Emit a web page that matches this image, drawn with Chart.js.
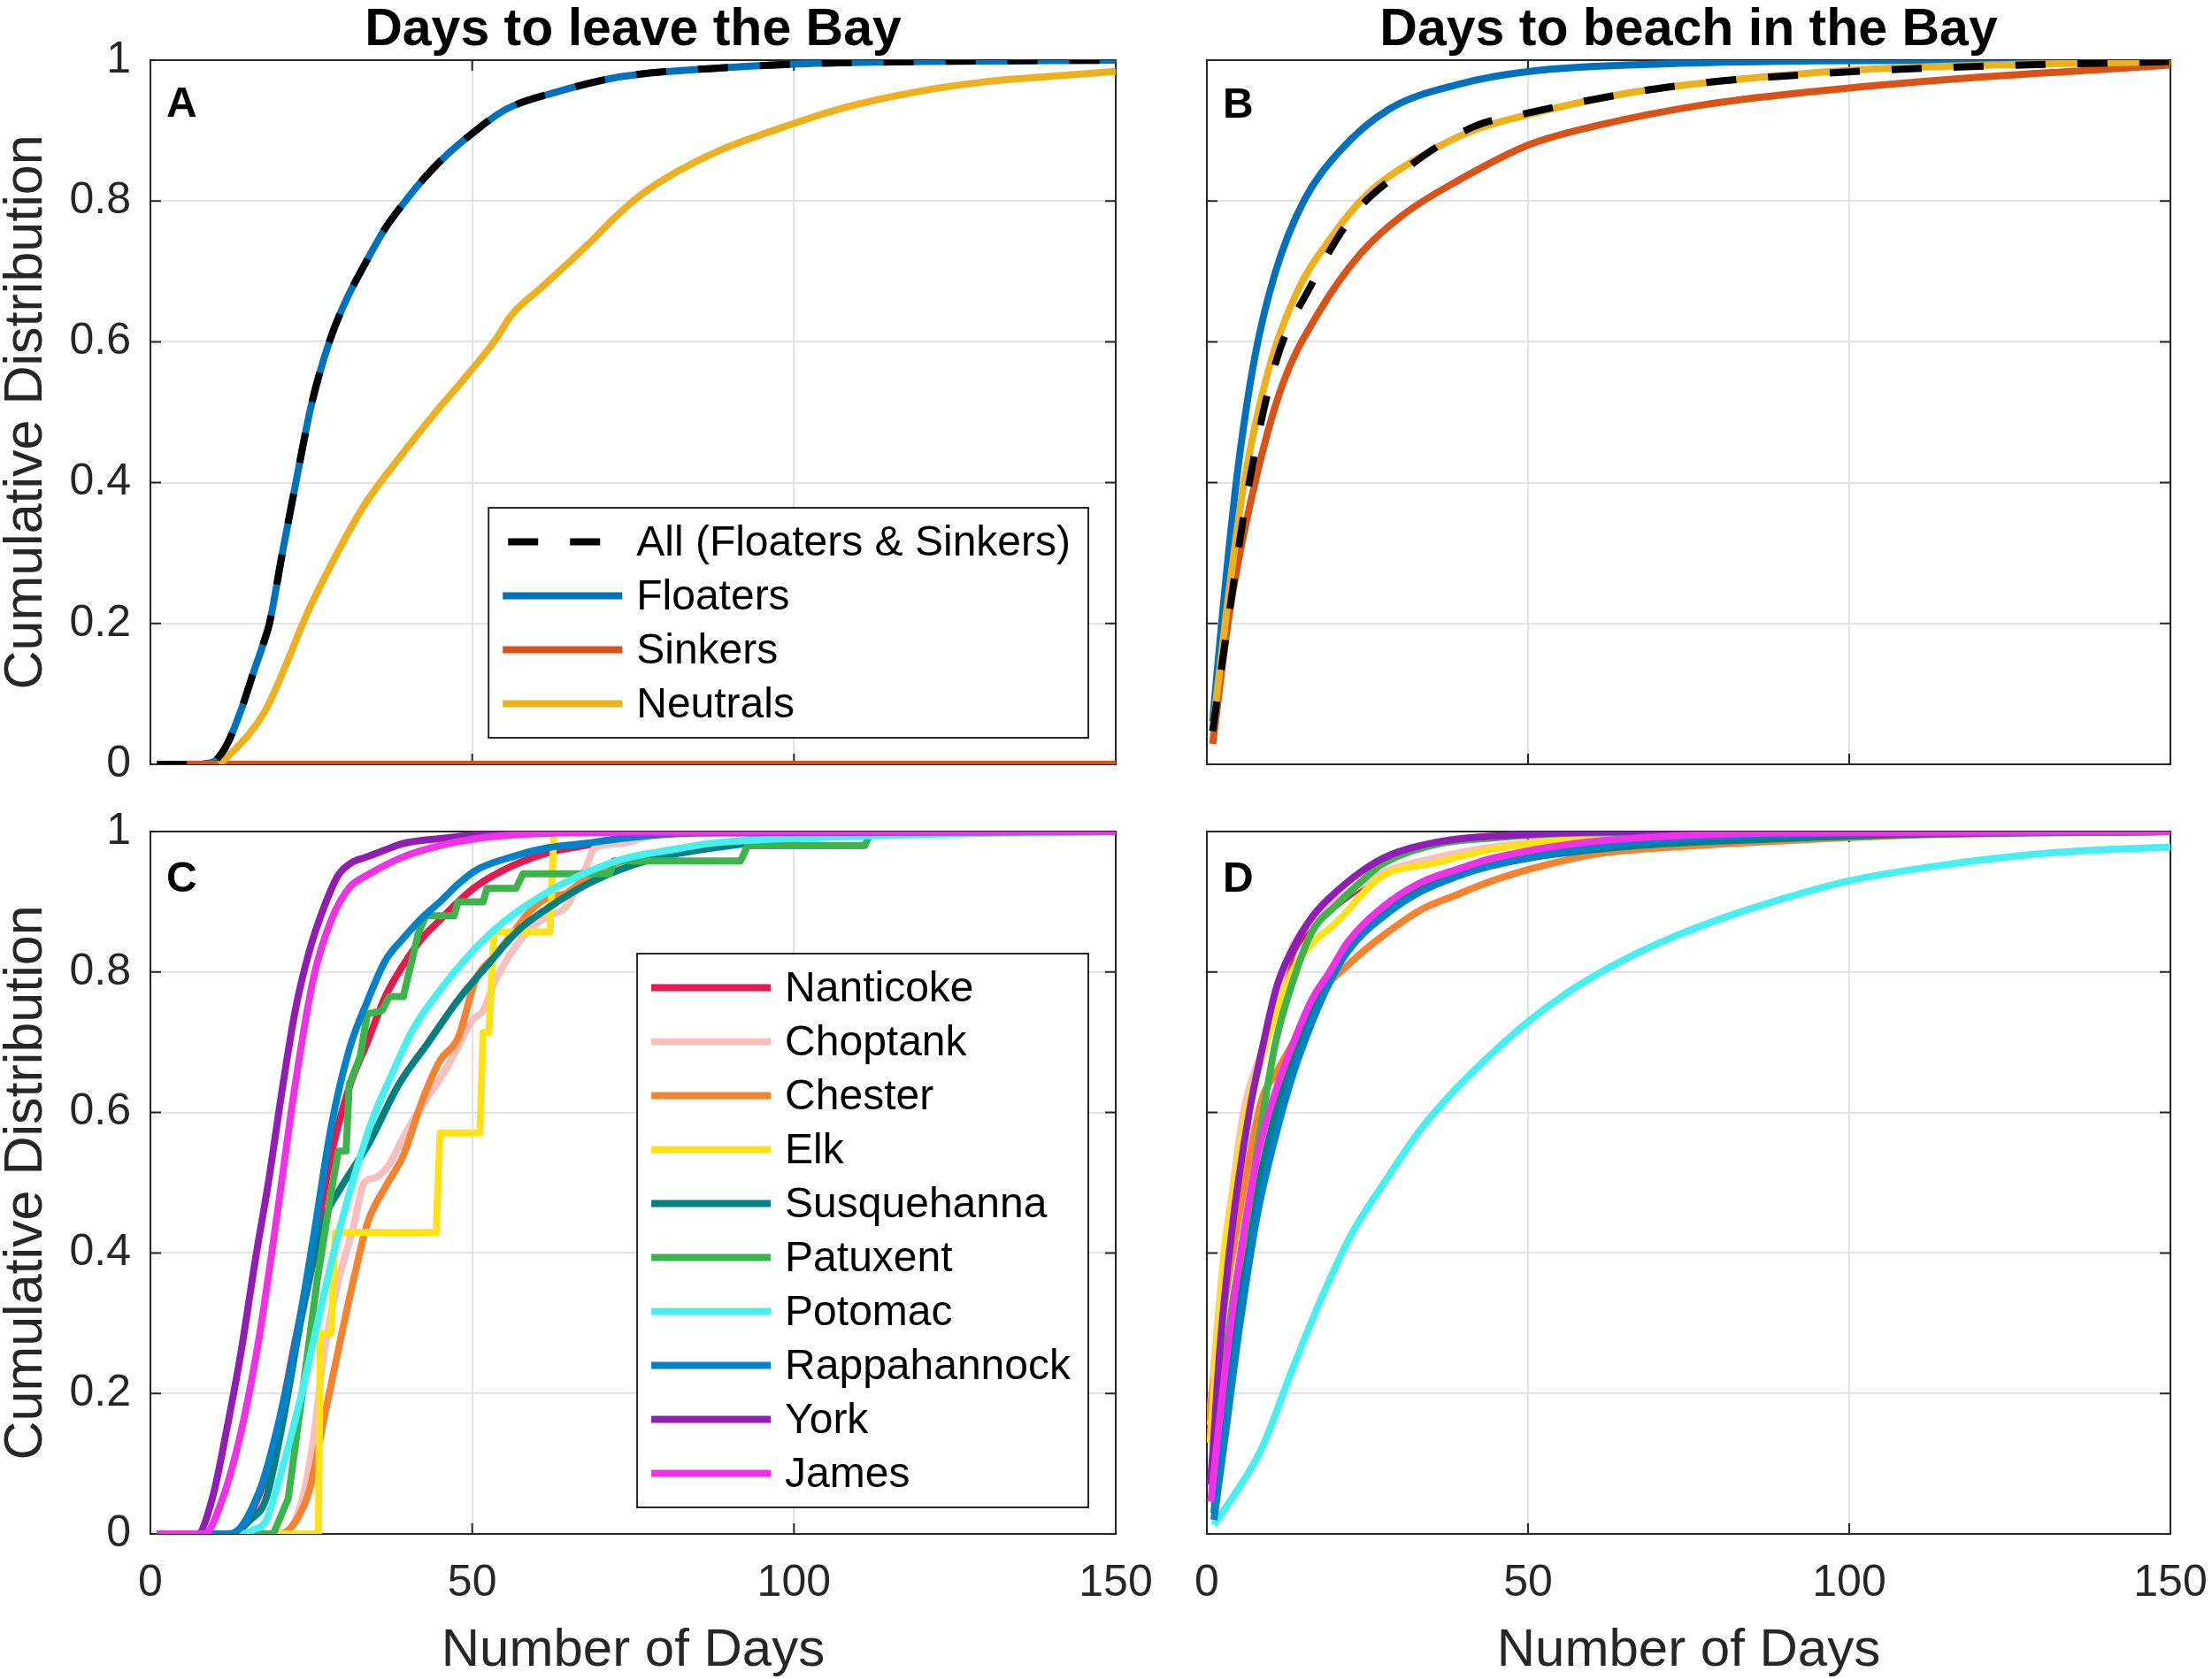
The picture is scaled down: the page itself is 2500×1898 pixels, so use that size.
<!DOCTYPE html>
<html>
<head>
<meta charset="utf-8">
<title>Days to leave / beach in the Bay</title>
<script src="https://cdn.jsdelivr.net/npm/chart.js@4.4.1/dist/chart.umd.min.js"></script>
<style>
  html, body { margin: 0; padding: 0; background: #fff; }
  #wrap { position: relative; width: 2500px; height: 1898px; background: #fff; overflow: hidden; }
  canvas { position: absolute; }
</style>
</head>
<body>
<div id="wrap">
  <canvas id="panelA" width="1300" height="920" style="left:0px;top:0px;width:1300px;height:920px"></canvas>
  <canvas id="panelB" width="1200" height="920" style="left:1300px;top:0px;width:1200px;height:920px"></canvas>
  <canvas id="panelC" width="1335" height="1018" style="left:0px;top:880px;width:1335px;height:1018px"></canvas>
  <canvas id="panelD" width="1240" height="1018" style="left:1300px;top:880px;width:1240px;height:1018px"></canvas>
</div>
<script>
const FONT = '"Liberation Sans", Arial, Helvetica, sans-serif';
Chart.defaults.font.family = FONT;
Chart.defaults.color = '#262626';

// tick labels
const xTickLabels = ['0', '50', '100', '150'];
const yTickLabels = ['0', '0.2', '0.4', '0.6', '0.8', '1'];

const particleTypes = ['All (Floaters & Sinkers)', 'Floaters', 'Sinkers', 'Neutrals'];
const rivers = ['Nanticoke', 'Choptank', 'Chester', 'Elk', 'Susquehanna', 'Patuxent', 'Potomac', 'Rappahannock', 'York', 'James'];

// ---- A: days to leave the Bay, by particle type ----
const leaveAllDays = [1, 9, 10.2, 12, 14.2, 16, 17.5, 18.5, 20.5, 22.6, 25, 27.8, 30.2, 33.3, 36.4, 39.2, 42.6, 46, 50, 55.2, 63.2, 73.5, 90.5, 102, 120, 150];
const leaveAllCdf = [0, 0, 0.006, 0.03, 0.08, 0.13, 0.17, 0.2, 0.30, 0.40, 0.51, 0.60, 0.655, 0.71, 0.76, 0.795, 0.833, 0.865, 0.896, 0.93, 0.955, 0.977, 0.99, 0.995, 0.998, 1];
const leaveFloatersDays = [8, 10.2, 12, 14.2, 16, 17.5, 18.5, 20.5, 22.6, 25, 27.8, 30.2, 33.3, 36.4, 39.2, 42.6, 46, 50, 55.2, 63.2, 73.5, 90.5, 102, 120, 150];
const leaveFloatersCdf = [0, 0.006, 0.03, 0.08, 0.13, 0.17, 0.2, 0.30, 0.40, 0.51, 0.60, 0.655, 0.71, 0.76, 0.795, 0.833, 0.865, 0.896, 0.93, 0.955, 0.977, 0.99, 0.995, 0.998, 1];
const leaveSinkersDays = [5.5, 150];
const leaveSinkersCdf = [0, 0];
const leaveNeutralsDays = [10.8, 13, 15.5, 17.9, 21, 24.1, 28.4, 33.3, 38.9, 44.4, 48.7, 53.7, 56.1, 61, 68.4, 72.1, 76.4, 81.9, 88.7, 95.5, 107.6, 119, 130.4, 140, 150];
const leaveNeutralsCdf = [0, 0.02, 0.045, 0.077, 0.14, 0.209, 0.289, 0.369, 0.438, 0.501, 0.547, 0.604, 0.638, 0.679, 0.742, 0.776, 0.81, 0.842, 0.873, 0.896, 0.932, 0.955, 0.97, 0.977, 0.984];

// ---- B: days to beach in the Bay, by particle type ----
const beachAllDays = [0.9, 3.1, 6.4, 10.7, 16.2, 22.8, 31.6, 41.4, 50, 72, 94, 116, 150];
const beachAllCdf = [0.047, 0.19, 0.39, 0.57, 0.68, 0.78, 0.85, 0.905, 0.925, 0.962, 0.98, 0.99, 0.998];
const beachFloatersDays = [0.9, 2.5, 4.7, 7.5, 10.7, 15.1, 20.6, 28.3, 39.3, 50.2, 72, 94, 120, 150];
const beachFloatersCdf = [0.061, 0.22, 0.41, 0.58, 0.70, 0.80, 0.87, 0.93, 0.966, 0.984, 0.995, 0.999, 1, 1];
const beachSinkersDays = [0.9, 3.6, 7.5, 11.8, 17.3, 23.9, 30.5, 39.3, 50.2, 61.2, 77.6, 94, 116, 137.8, 150];
const beachSinkersCdf = [0.029, 0.22, 0.40, 0.54, 0.64, 0.725, 0.78, 0.83, 0.88, 0.908, 0.937, 0.955, 0.973, 0.986, 0.993];
const beachNeutralsDays = [0.9, 3.1, 5.8, 9.6, 14, 19.5, 25, 32.7, 41.4, 50.2, 66.7, 83, 105, 150];
const beachNeutralsCdf = [0.047, 0.22, 0.40, 0.56, 0.67, 0.75, 0.81, 0.86, 0.90, 0.923, 0.955, 0.973, 0.988, 0.998];

// ---- C: days to leave the Bay, by river ----
const leaveNanticokeDays = [1, 12.9, 16.9, 19.7, 22.5, 25.3, 28.1, 30.9, 33.7, 36.5, 39.3, 42.2, 45, 47.8, 50.6, 56.2, 61.8, 67.5, 73, 85, 150];
const leaveNanticokeCdf = [0, 0, 0.056, 0.146, 0.275, 0.40, 0.54, 0.636, 0.70, 0.765, 0.81, 0.848, 0.874, 0.90, 0.922, 0.951, 0.97, 0.98, 0.99, 0.998, 1];
const leaveChoptankDays = [1, 20.8, 23.6, 25.3, 27, 29.2, 31.5, 33.2, 34.9, 37.1, 39.3, 42.2, 45, 47.8, 50, 51.7, 53.4, 56.2, 59, 61.8, 64.6, 67.5, 69.1, 73, 80, 150];
const leaveChoptankCdf = [0, 0, 0.05, 0.133, 0.26, 0.36, 0.436, 0.50, 0.507, 0.526, 0.565, 0.61, 0.648, 0.693, 0.732, 0.745, 0.784, 0.829, 0.861, 0.88, 0.893, 0.945, 0.977, 0.983, 0.998, 1];
const leaveChesterDays = [1, 20.2, 22.5, 24.7, 27, 29.2, 31.5, 33.7, 36.5, 39.3, 42.2, 45, 47.8, 50.6, 53.4, 56.2, 59, 61.8, 64.6, 67.5, 73, 78.7, 88.1, 102, 150];
const leaveChesterCdf = [0, 0, 0.017, 0.062, 0.165, 0.262, 0.359, 0.442, 0.494, 0.539, 0.616, 0.674, 0.706, 0.79, 0.822, 0.854, 0.887, 0.906, 0.912, 0.932, 0.957, 0.97, 0.983, 0.995, 1];
const leaveElkDays = [1, 26.1, 26.4, 28.1, 28.7, 44.4, 45, 51.2, 51.7, 52.6, 53.4, 62.1, 62.7, 150];
const leaveElkCdf = [0, 0, 0.286, 0.286, 0.429, 0.429, 0.571, 0.571, 0.714, 0.714, 0.857, 0.857, 1, 1];
const leaveSusquehannaDays = [1, 12.4, 15.5, 17.96, 20.7, 23.5, 27.1, 29.4, 34, 38.6, 43.2, 47.8, 52.4, 57, 61.6, 68.5, 77.7, 86.9, 100, 120, 150];
const leaveSusquehannaCdf = [0, 0, 0.02, 0.05, 0.166, 0.31, 0.45, 0.49, 0.557, 0.64, 0.70, 0.76, 0.81, 0.858, 0.89, 0.928, 0.96, 0.976, 0.99, 0.998, 1];
const leavePatuxentDays = [1, 19.1, 21.4, 23.6, 25.9, 28.1, 29.2, 30.4, 30.9, 32.6, 33.7, 36, 37.1, 39.3, 41.6, 42.8, 47.2, 47.8, 51.7, 52.3, 56.8, 57.9, 71.4, 72, 91.7, 92.8, 111, 112, 150];
const leavePatuxentCdf = [0, 0, 0.05, 0.2, 0.36, 0.487, 0.545, 0.545, 0.64, 0.68, 0.74, 0.745, 0.765, 0.765, 0.854, 0.88, 0.88, 0.90, 0.90, 0.919, 0.919, 0.94, 0.94, 0.958, 0.958, 0.98, 0.98, 1, 1];
const leavePotomacDays = [1, 14.1, 16, 17.96, 20.7, 23.5, 26.2, 29, 31.7, 34.5, 37.3, 40.9, 45.5, 50.1, 54.7, 59.3, 63.9, 73.1, 82.3, 86.9, 102, 124.7, 150];
const leavePotomacCdf = [0, 0, 0.006, 0.019, 0.10, 0.20, 0.31, 0.42, 0.51, 0.59, 0.65, 0.72, 0.78, 0.83, 0.87, 0.90, 0.925, 0.96, 0.976, 0.983, 0.991, 0.997, 1];
const leaveRappahannockDays = [1, 12.4, 16.9, 19.7, 22.5, 25.3, 28.1, 30.9, 33.7, 36.5, 39.3, 42.2, 45, 47.8, 50.6, 56.2, 61.8, 67.5, 73, 85, 150];
const leaveRappahannockCdf = [0, 0, 0.06, 0.15, 0.27, 0.42, 0.58, 0.69, 0.758, 0.816, 0.848, 0.877, 0.90, 0.925, 0.945, 0.964, 0.977, 0.983, 0.99, 0.998, 1];
const leaveYorkDays = [1, 7.3, 9.6, 11.8, 14.1, 16.3, 18.5, 20.2, 22.5, 24.7, 27, 29.2, 31.5, 33.7, 36.5, 39.3, 45, 50.6, 60, 150];
const leaveYorkCdf = [0, 0, 0.05, 0.146, 0.26, 0.39, 0.51, 0.616, 0.745, 0.83, 0.893, 0.938, 0.957, 0.964, 0.974, 0.983, 0.99, 0.995, 0.999, 1];
const leaveJamesDays = [1, 8.4, 11.2, 14.1, 16.9, 19.7, 22.5, 25.3, 28.1, 30.9, 33.7, 39.3, 45, 50.6, 56.2, 70, 150];
const leaveJamesCdf = [0, 0, 0.05, 0.146, 0.28, 0.455, 0.64, 0.79, 0.874, 0.92, 0.938, 0.964, 0.98, 0.99, 0.995, 0.999, 1];

// ---- D: days to beach in the Bay, by river ----
const beachNanticokeDays = [0.4, 2.7, 4, 5.8, 8.6, 12, 13.5, 16.3, 20.1, 27, 35.3, 44.5, 60, 150];
const beachNanticokeCdf = [0.14, 0.39, 0.48, 0.595, 0.68, 0.79, 0.83, 0.865, 0.895, 0.938, 0.96, 0.977, 0.99, 1];
const beachChoptankDays = [0.3, 2.7, 4, 5.7, 8.6, 11.9, 13.5, 16.3, 20.1, 27, 35.3, 44.5, 60, 150];
const beachChoptankCdf = [0.155, 0.40, 0.49, 0.60, 0.69, 0.80, 0.84, 0.87, 0.90, 0.94, 0.962, 0.978, 0.99, 1];
const beachChesterDays = [0.3, 2.3, 4, 5.1, 8.6, 10.7, 13.5, 16.3, 19.1, 21.96, 24.8, 27.6, 33.2, 38.9, 44.5, 50.1, 55.7, 61.4, 72.6, 87.7, 110, 150];
const beachChesterCdf = [0.16, 0.30, 0.40, 0.46, 0.62, 0.655, 0.70, 0.745, 0.785, 0.81, 0.833, 0.853, 0.888, 0.91, 0.93, 0.946, 0.959, 0.969, 0.978, 0.986, 0.995, 1];
const beachElkDays = [0.5, 2.7, 4, 5.9, 8.6, 11.9, 13.5, 16.3, 20.1, 27, 35.3, 44.5, 55.7, 80, 150];
const beachElkCdf = [0.13, 0.40, 0.48, 0.59, 0.68, 0.77, 0.805, 0.84, 0.87, 0.935, 0.955, 0.975, 0.988, 0.998, 1];
const beachSusquehannaDays = [1.1, 2.8, 5.1, 7.9, 10.7, 13.5, 16.3, 19.1, 21.96, 27.6, 33.2, 38.9, 50.1, 67, 83.9, 110, 150];
const beachSusquehannaCdf = [0.03, 0.18, 0.34, 0.49, 0.6, 0.68, 0.74, 0.79, 0.83, 0.885, 0.918, 0.938, 0.962, 0.98, 0.988, 0.996, 1];
const beachPatuxentDays = [0.8, 2, 4, 5.4, 8.6, 10.7, 12.8, 16.3, 20.1, 24.8, 27, 35.3, 44.5, 60, 150];
const beachPatuxentCdf = [0.07, 0.18, 0.33, 0.40, 0.59, 0.70, 0.77, 0.856, 0.895, 0.935, 0.952, 0.981, 0.991, 0.998, 1];
const beachPotomacDays = [1.1, 4, 8.6, 13.2, 17.8, 22.4, 27.6, 33.2, 38.9, 44.5, 50.1, 55.7, 61.4, 67, 72.6, 78.3, 83.9, 99.6, 116, 132, 150];
const beachPotomacCdf = [0.013, 0.052, 0.123, 0.232, 0.335, 0.425, 0.50, 0.575, 0.635, 0.685, 0.73, 0.768, 0.80, 0.827, 0.85, 0.87, 0.888, 0.929, 0.954, 0.97, 0.978];
const beachRappahannockDays = [1.1, 2.8, 5.1, 7.9, 10.7, 13.5, 16.3, 19.1, 21.96, 27.6, 33.2, 38.9, 44.5, 55.7, 67, 90, 150];
const beachRappahannockCdf = [0.02, 0.136, 0.296, 0.457, 0.567, 0.657, 0.727, 0.785, 0.83, 0.88, 0.914, 0.936, 0.952, 0.972, 0.985, 0.996, 1];
const beachYorkDays = [0.5, 0.8, 2, 4, 6.6, 8.6, 10.9, 13.2, 16.5, 20.1, 27, 35.3, 50, 70, 150];
const beachYorkCdf = [0.07, 0.10, 0.26, 0.44, 0.60, 0.69, 0.78, 0.83, 0.88, 0.914, 0.96, 0.984, 0.996, 1, 1];
const beachJamesDays = [0.6, 2.8, 5.1, 7.9, 10.7, 13.5, 16.3, 19.1, 21.96, 27.6, 33.2, 38.9, 44.5, 55.7, 67, 90, 150];
const beachJamesCdf = [0.046, 0.23, 0.39, 0.54, 0.63, 0.70, 0.76, 0.80, 0.843, 0.894, 0.927, 0.946, 0.962, 0.981, 0.991, 0.998, 1];

// colours (matlab default order for A/B, river palette for C/D)
const typeColors = ['#000000', '#0072BD', '#D95319', '#EDB120'];
const riverColors = ['#E6194B', '#FABEBE', '#F58231', '#FFE119', '#008080', '#3CB44B', '#46F0F0', '#0082C8', '#911EB4', '#F032E6'];

function line(label, color, days, cdf, extra) {
    return Object.assign({
        label: label,
        borderColor: color,
        backgroundColor: color,
        borderWidth: 8,
        pointRadius: 0,
        pointHoverRadius: 0,
        fill: false,
        cubicInterpolationMode: 'monotone',
        borderCapStyle: 'butt',
        borderJoinStyle: 'round',
        data: days.map((d, i) => ({ x: d, y: cdf[i] }))
    }, extra || {});
}

// box around the axes + inward tick marks (matlab style)
const frame = {
    id: 'frame',
    beforeDatasetsDraw(chart) {
        const { ctx, chartArea: a, scales } = chart;
        ctx.save();
        ctx.strokeStyle = '#262626';
        ctx.lineWidth = 2;
        ctx.strokeRect(a.left, a.top, a.right - a.left, a.bottom - a.top);
        ctx.beginPath();
        scales.x.ticks.forEach(t => {
            const px = scales.x.getPixelForValue(t.value);
            ctx.moveTo(px, a.bottom); ctx.lineTo(px, a.bottom - 12);
            ctx.moveTo(px, a.top); ctx.lineTo(px, a.top + 12);
        });
        scales.y.ticks.forEach(t => {
            const py = scales.y.getPixelForValue(t.value);
            ctx.moveTo(a.left, py); ctx.lineTo(a.left + 12, py);
            ctx.moveTo(a.right, py); ctx.lineTo(a.right - 12, py);
        });
        ctx.stroke();
        ctx.restore();
    }
};

// legend drawn inside the lower right corner of the axes
const boxLegend = {
    id: 'boxLegend',
    afterDraw(chart, args, opts) {
        if (!opts.show) return;
        const { ctx, chartArea: a } = chart;
        const items = chart.data.datasets;
        ctx.save();
        ctx.font = '48px ' + FONT;
        const textW = Math.max(...items.map(d => ctx.measureText(d.label).width));
        const rowH = 61, padL = 16, lineLen = 135, gap = 16, padR = 20;
        const w = padL + lineLen + gap + textW + padR;
        const h = items.length * rowH + 16;
        const x0 = a.right - 31 - w, y0 = a.bottom - 30 - h;
        ctx.fillStyle = '#ffffff';
        ctx.fillRect(x0, y0, w, h);
        ctx.lineWidth = 2;
        ctx.strokeStyle = '#262626';
        ctx.strokeRect(x0, y0, w, h);
        items.forEach((d, i) => {
            const cy = y0 + 8 + rowH * (i + 0.5);
            ctx.beginPath();
            ctx.setLineDash(d.borderDash || []);
            ctx.lineDashOffset = -6;
            ctx.strokeStyle = d.borderColor;
            ctx.lineWidth = d.borderWidth;
            ctx.lineCap = 'butt';
            ctx.moveTo(x0 + padL, cy);
            ctx.lineTo(x0 + padL + lineLen, cy);
            ctx.stroke();
            ctx.setLineDash([]);
            ctx.fillStyle = '#000000';
            ctx.textBaseline = 'middle';
            ctx.textAlign = 'left';
            ctx.fillText(d.label, x0 + padL + lineLen + gap, cy + 2);
        });
        ctx.restore();
    }
};

const panelLetter = {
    id: 'panelLetter',
    afterDraw(chart, args, opts) {
        const { ctx, chartArea: a } = chart;
        ctx.save();
        ctx.font = 'bold 48px ' + FONT;
        ctx.fillStyle = '#000000';
        ctx.textBaseline = 'alphabetic';
        ctx.textAlign = 'left';
        ctx.fillText(opts.text, a.left + 18, a.top + opts.baseline);
        ctx.restore();
    }
};

function panel(id, cfg) {
    return new Chart(document.getElementById(id), {
        type: 'line',
        data: { datasets: cfg.datasets },
        options: {
            responsive: false,
            animation: false,
            devicePixelRatio: 1,
            events: [],
            layout: { padding: cfg.padding },
            plugins: {
                legend: { display: false },
                tooltip: { enabled: false },
                title: {
                    display: !!cfg.title,
                    text: cfg.title || '',
                    fullSize: false,
                    color: '#000000',
                    font: { size: 59, weight: 'bold', lineHeight: 1 },
                    padding: { top: 5, bottom: 4 }
                },
                boxLegend: { show: !!cfg.legend },
                panelLetter: { text: cfg.letter, baseline: cfg.letterBaseline }
            },
            scales: {
                x: {
                    type: 'linear',
                    min: 0,
                    max: 150,
                    ticks: {
                        stepSize: 50,
                        display: cfg.xLabels,
                        padding: 26,
                        color: '#262626',
                        font: { size: 50, lineHeight: 1.2 },
                        callback: (v, i) => xTickLabels[i]
                    },
                    grid: { color: '#e2e2e2', lineWidth: 2, drawTicks: false },
                    border: { display: false },
                    title: {
                        display: cfg.xLabels,
                        text: 'Number of Days',
                        color: '#262626',
                        font: { size: 60, lineHeight: 1 },
                        padding: { top: 0, bottom: 2 }
                    },
                    afterFit: s => { s.height = cfg.xHeight; }
                },
                y: {
                    type: 'linear',
                    min: 0,
                    max: 1,
                    ticks: {
                        stepSize: 0.2,
                        display: cfg.yLabels,
                        padding: 22,
                        color: '#262626',
                        font: { size: 50, lineHeight: 1.2 },
                        callback: (v, i) => yTickLabels[i]
                    },
                    grid: { color: '#e2e2e2', lineWidth: 2, drawTicks: false },
                    border: { display: false },
                    title: {
                        display: cfg.yLabels,
                        text: 'Cumulative Distribution',
                        color: '#262626',
                        font: { size: 61, lineHeight: 1 },
                        padding: 0
                    },
                    afterFit: s => { s.width = cfg.yWidth; }
                }
            }
        },
        plugins: [frame, boxLegend, panelLetter]
    });
}

const dashed = { borderDash: [34, 36], order: 0 };

// A
panel('panelA', {
    title: 'Days to leave the Bay', letter: 'A', letterBaseline: 64, legend: true,
    xLabels: false, yLabels: true, yWidth: 170, xHeight: 56,
    padding: { left: 0, top: 0, right: 39, bottom: 0 },
    datasets: [
        line(particleTypes[0], typeColors[0], leaveAllDays, leaveAllCdf, dashed),
        line(particleTypes[1], typeColors[1], leaveFloatersDays, leaveFloatersCdf, { order: 3 }),
        line(particleTypes[2], typeColors[2], leaveSinkersDays, leaveSinkersCdf, { order: 2 }),
        line(particleTypes[3], typeColors[3], leaveNeutralsDays, leaveNeutralsCdf, { order: 1 })
    ]
});

// B
panel('panelB', {
    title: 'Days to beach in the Bay', letter: 'B', letterBaseline: 65, legend: false,
    xLabels: false, yLabels: false, yWidth: 64, xHeight: 56,
    padding: { left: 0, top: 0, right: 47, bottom: 0 },
    datasets: [
        line(particleTypes[0], typeColors[0], beachAllDays, beachAllCdf, dashed),
        line(particleTypes[1], typeColors[1], beachFloatersDays, beachFloatersCdf, { order: 3 }),
        line(particleTypes[2], typeColors[2], beachSinkersDays, beachSinkersCdf, { order: 2 }),
        line(particleTypes[3], typeColors[3], beachNeutralsDays, beachNeutralsCdf, { order: 1 })
    ]
});

// C
const leaveRivers = [
    [leaveNanticokeDays, leaveNanticokeCdf], [leaveChoptankDays, leaveChoptankCdf],
    [leaveChesterDays, leaveChesterCdf], [leaveElkDays, leaveElkCdf],
    [leaveSusquehannaDays, leaveSusquehannaCdf], [leavePatuxentDays, leavePatuxentCdf],
    [leavePotomacDays, leavePotomacCdf], [leaveRappahannockDays, leaveRappahannockCdf],
    [leaveYorkDays, leaveYorkCdf], [leaveJamesDays, leaveJamesCdf]
];
const stepRivers = ['Elk', 'Patuxent'];
panel('panelC', {
    letter: 'C', letterBaseline: 68, legend: true,
    xLabels: true, yLabels: true, yWidth: 170, xHeight: 164,
    padding: { left: 0, top: 60, right: 74, bottom: 0 },
    datasets: rivers.map((r, i) => line(r, riverColors[i], leaveRivers[i][0], leaveRivers[i][1],
        Object.assign({ order: rivers.length - i }, stepRivers.includes(r) ? { cubicInterpolationMode: 'default', tension: 0 } : {})))
});

// D
const beachRivers = [
    [beachNanticokeDays, beachNanticokeCdf], [beachChoptankDays, beachChoptankCdf],
    [beachChesterDays, beachChesterCdf], [beachElkDays, beachElkCdf],
    [beachSusquehannaDays, beachSusquehannaCdf], [beachPatuxentDays, beachPatuxentCdf],
    [beachPotomacDays, beachPotomacCdf], [beachRappahannockDays, beachRappahannockCdf],
    [beachYorkDays, beachYorkCdf], [beachJamesDays, beachJamesCdf]
];
panel('panelD', {
    letter: 'D', letterBaseline: 68, legend: false,
    xLabels: true, yLabels: false, yWidth: 64, xHeight: 164,
    padding: { left: 0, top: 60, right: 87, bottom: 0 },
    datasets: rivers.map((r, i) => line(r, riverColors[i], beachRivers[i][0], beachRivers[i][1], { order: rivers.length - i }))
});
</script>
</body>
</html>
